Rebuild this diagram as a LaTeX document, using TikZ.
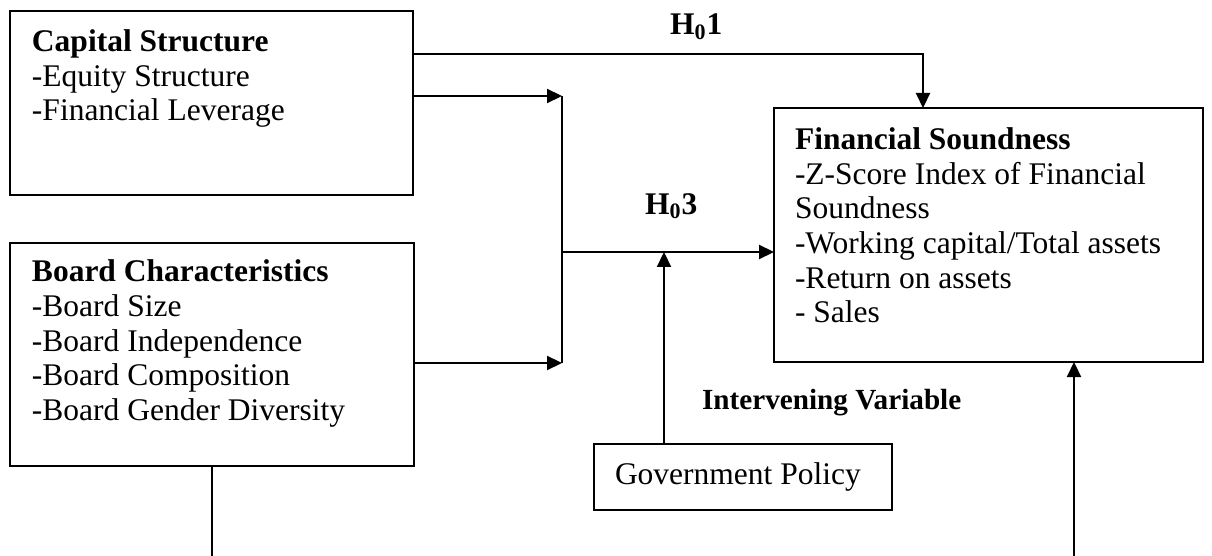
\documentclass[tikz,border=0pt]{standalone}
\usepackage{fontspec}
\setmainfont{Liberation Serif}
\usetikzlibrary{arrows.meta}
\begin{document}
\begin{tikzpicture}[x=0.5pt,y=-0.5pt,
  boxstyle/.style={draw,line width=1.1pt,inner sep=0pt,outer sep=0pt},
  linetext/.style={inner sep=0pt,outer sep=0pt,anchor=base west,font=\fontsize{15.75}{17.25}\selectfont},
  headtext/.style={linetext,font=\fontsize{15.75}{17.25}\selectfont\bfseries},
  labeltext/.style={inner sep=0pt,outer sep=0pt,anchor=base west,font=\fontsize{14.6}{16}\selectfont\bfseries},
  hyptext/.style={inner sep=0pt,outer sep=0pt,anchor=base west,font=\fontsize{15.75}{17.25}\selectfont\bfseries},
  conn/.style={line width=1.1pt},
  arr/.style={conn,-{Triangle[length=7.5pt,width=7pt]}}]
\useasboundingbox (0,0) rectangle (1212,556);
% boxes
\node[boxstyle,minimum width=201.5pt,minimum height=92pt] (cs) at (211.5,103) {};
\node[boxstyle,minimum width=202pt,minimum height=111.5pt] (bc) at (212,354.5) {};
\node[boxstyle,minimum width=214.5pt,minimum height=127pt] (fs) at (988.5,235) {};
\node[boxstyle,minimum width=149pt,minimum height=33pt] (gp) at (743,477) {};
% box texts
\node[headtext] (cs0) at (32,52) {Capital Structure};
\foreach \t [count=\i] in {-Equity Structure,-Financial Leverage}
  \node[linetext] (cs\i) at (32,52+34.5*\i) {\t};
\node[headtext] (bc0) at (32,282) {Board Characteristics};
\foreach \t [count=\i] in {-Board Size,-Board Independence,-Board Composition,-Board Gender Diversity}
  \node[linetext] (bc\i) at (32,282+34.5*\i) {\t};
\node[headtext] (fs0) at (795,150) {Financial Soundness};
\foreach \t [count=\i] in {-Z-Score Index of Financial,Soundness,-Working capital/Total assets,-Return on assets,- Sales}
  \node[linetext] (fs\i) at (795,150+34.5*\i) {\t};
\node[linetext] (gptext) at (615,484) {Government Policy};
% labels
\node[hyptext] (h1) at (670,35) {H\textsubscript{0}1};
\node[hyptext] (h3) at (645,214) {H\textsubscript{0}3};
\node[labeltext] (iv) at (702,409) {Intervening Variable};
% junction coordinates
\coordinate (h1corner) at (923,54);
\coordinate (jtop) at (562,96);
\coordinate (jbot) at (562,363);
\coordinate (jmid) at (562,252);
\coordinate (gpin) at (664,252);
\coordinate (bcout) at (212,557);
\coordinate (fsin) at (1074,557);
% connectors
\draw[arr] (cs.east |- h1corner) -- (h1corner) -- (h1corner |- fs.north);
\draw[arr] (cs.east |- jtop) -- (jtop);
\draw[arr] (bc.east |- jbot) -- (jbot);
\draw[conn] (jtop) -- (jbot);
\draw[arr] (jmid) -- (jmid -| fs.west);
\draw[arr] (gp.north -| gpin) -- (gpin);
\draw[conn] (bc.south) -- (bc.south |- bcout);
\draw[arr] (fsin) -- (fsin |- fs.south);
\end{tikzpicture}
\end{document}
